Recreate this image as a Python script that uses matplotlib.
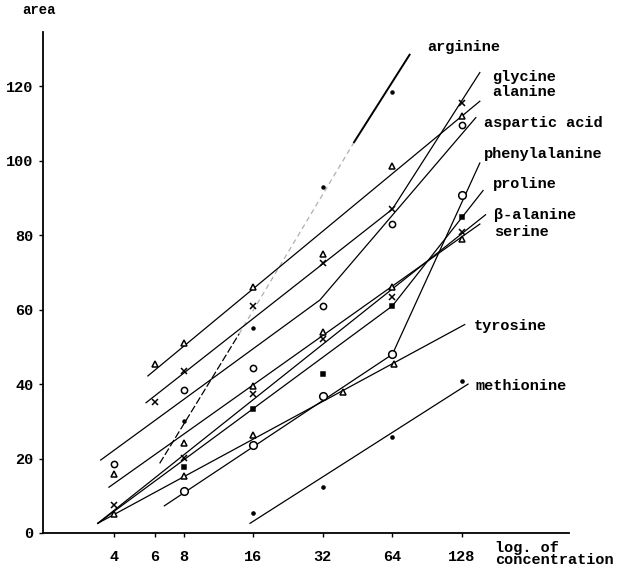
import matplotlib
matplotlib.use("Agg")
import matplotlib.pyplot as plt

# ---------------- data (concentration, area) ----------------
x_ticks = [4, 6, 8, 16, 32, 64, 128]
y_ticks = [0, 20, 40, 60, 80, 100, 120]

arginine_c = [8, 16, 32, 64]
arginine_v = [30, 55, 93, 118.6]
arginine_line_c = [6.3, 13.9, 43.7, 76]
arginine_line_v = [18.7, 53.5, 105, 128.5]

glycine_c = [6, 8, 16, 32, 64, 128]
glycine_v = [35.3, 43.4, 61, 72.5, 87, 115.5]
glycine_line_c = [5.5, 64, 153]
glycine_line_v = [35, 87, 123.7]

alanine_c = [6, 8, 16, 32, 64, 128]
alanine_v = [45.4, 51, 66, 75, 98.5, 112]
alanine_line_c = [5.6, 153]
alanine_line_v = [42.2, 116]

aspartic_c = [4, 8, 16, 32, 64, 128]
aspartic_v = [18.5, 38.3, 44.3, 61, 83, 109.7]
aspartic_line_c = [3.5, 31.1, 147]
aspartic_line_v = [19.6, 62.6, 111.6]

phenyl_c = [8, 16, 32, 64, 128]
phenyl_v = [11.4, 23.7, 36.8, 48, 90.7]
phenyl_line_c = [6.6, 64, 153]
phenyl_line_v = [7.3, 48, 99.4]

proline_c = [8, 16, 32, 64, 128]
proline_v = [17.7, 33.2, 42.7, 61, 85]
proline_line_c = [3.4, 64, 158]
proline_line_v = [2.6, 61, 92]

balanine_c = [4, 8, 16, 32, 64, 128]
balanine_v = [7.5, 20.1, 37.4, 52, 63.5, 81]
balanine_line_c = [3.4, 162]
balanine_line_v = [2.6, 85.5]

serine_c = [4, 8, 16, 32, 64, 128]
serine_v = [15.8, 24.1, 39.5, 54, 66, 79]
serine_line_c = [3.8, 153]
serine_line_v = [12.3, 83]

tyrosine_c = [4, 8, 16, 39, 64.8]
tyrosine_v = [5.1, 15.3, 26.3, 38, 45.3]
tyrosine_line_c = [3.4, 131.6]
tyrosine_line_v = [2.6, 56]

methionine_c = [16, 32, 64, 128]
methionine_v = [5.5, 12.3, 25.9, 40.9]
methionine_line_c = [15.5, 136]
methionine_line_v = [2.6, 40]

labels = ["arginine", "glycine", "alanine", "aspartic acid", "phenylalanine",
          "proline", "\u03b2-alanine", "serine", "tyrosine", "methionine"]

# ---------------- drawing ----------------
FONT = "Liberation Mono"
plt.rcParams["font.family"] = [FONT, "DejaVu Sans Mono"]

fig = plt.figure(figsize=(6.19, 5.66), dpi=100)
W, H = 619, 566
ax = fig.add_axes([43 / W, 1 - 533 / H, (569 - 43) / W, (533 - 32) / H])
ax.set_xscale("log", base=2)
ax.set_xlim(1.97, 372)
ax.set_ylim(0, 134.6)
for s in ["top", "right"]:
    ax.spines[s].set_visible(False)
ax.spines["left"].set_linewidth(1.3)
ax.spines["bottom"].set_linewidth(1.3)

ax.set_xticks(x_ticks)
ax.set_xticklabels([str(t) for t in x_ticks], fontsize=11, fontweight="bold")
ax.xaxis.set_minor_locator(matplotlib.ticker.NullLocator())
ax.set_yticks(y_ticks)
ax.set_yticklabels([str(t) for t in y_ticks], fontsize=11, fontweight="bold")
ax.tick_params(axis="both", length=3, width=1, direction="out", pad=4)
ax.tick_params(axis="x", pad=9)

lw = 0.9
k = "black"

# arginine: dashed lower part, light dashed middle, solid top
ax.plot(arginine_line_c[0:2], arginine_line_v[0:2], color=k, lw=lw, ls=(0, (6, 2)))
ax.plot(arginine_line_c[1:3], arginine_line_v[1:3], color="#b0b0b0", lw=lw, ls=(0, (4, 3)))
ax.plot(arginine_line_c[2:4], arginine_line_v[2:4], color=k, lw=1.4)
ax.plot(arginine_c, arginine_v, ls="none", marker="o", ms=2.2, color=k)

series = [
    (glycine_line_c, glycine_line_v, glycine_c, glycine_v, "x", 4.5, "full"),
    (alanine_line_c, alanine_line_v, alanine_c, alanine_v, "^", 4.5, "none"),
    (aspartic_line_c, aspartic_line_v, aspartic_c, aspartic_v, "o", 4.5, "none"),
    (phenyl_line_c, phenyl_line_v, phenyl_c, phenyl_v, "o", 5.5, "none"),
    (proline_line_c, proline_line_v, proline_c, proline_v, "s", 2.8, "full"),
    (balanine_line_c, balanine_line_v, balanine_c, balanine_v, "x", 4.5, "full"),
    (serine_line_c, serine_line_v, serine_c, serine_v, "^", 4.5, "none"),
    (tyrosine_line_c, tyrosine_line_v, tyrosine_c, tyrosine_v, "^", 4.5, "none"),
    (methionine_line_c, methionine_line_v, methionine_c, methionine_v, "o", 2.2, "full"),
]
for lc, lv, pc, pv, m, ms, fill in series:
    ax.plot(lc, lv, color=k, lw=lw)
    if fill == "none":
        ax.plot(pc, pv, ls="none", marker=m, ms=ms, mfc="white", mec=k, mew=1.1)
    else:
        ax.plot(pc, pv, ls="none", marker=m, ms=ms, color=k, mew=1.1)

# right-side labels (pixel positions converted to axes coords)
def px(x, y):
    return ((x - 43) / (569 - 43), (533 - y) / (533 - 32))

label_px = [(427, 47), (492, 77), (492, 92), (484, 123), (484, 154),
            (493, 184), (494, 215), (494, 232), (474, 326), (476, 386)]
for name, (x, y) in zip(labels, label_px):
    ax.text(*px(x, y), name, transform=ax.transAxes, fontsize=11,
            fontweight="bold", va="center", ha="left", clip_on=False)

fig.text(22 / W, 1 - 10 / H, "area", fontsize=10, fontweight="bold", va="center", ha="left")
fig.text(495 / W, 1 - 554 / H, "log. of\nconcentration", fontsize=11, fontweight="bold",
         va="center", ha="left", linespacing=0.9)

fig.savefig("out.png", dpi=100)
